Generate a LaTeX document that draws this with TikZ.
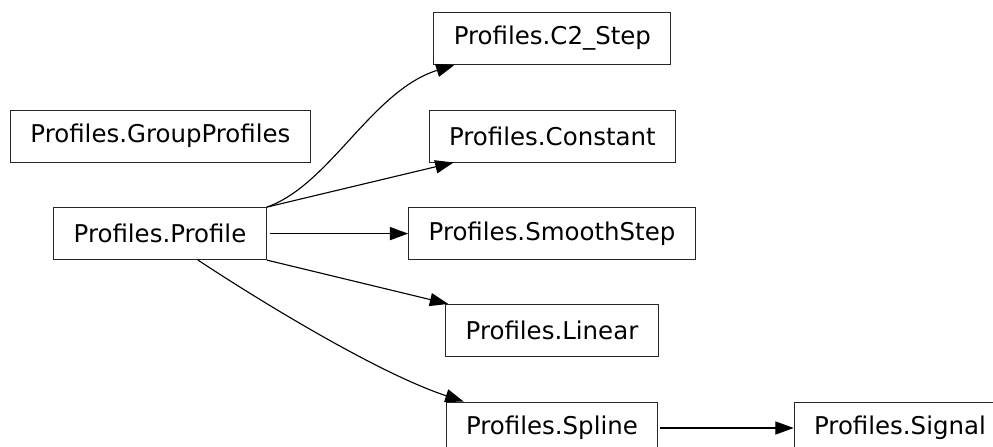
\documentclass[tikz,border=0pt]{standalone}
\usepackage{fontspec}
\setmainfont{DejaVu Sans}
\usetikzlibrary{arrows.meta}
\tikzset{
  klass/.style ={rectangle, draw=black!85, line width=0.7pt, fill=white,
                 font=\fontsize{17.4}{20}\selectfont, inner xsep=0.5cm,
                 inner ysep=0pt, minimum height=1.3cm},
  flow/.style  ={-{Triangle[length=4.6mm, width=3.3mm]}, line width=0.8pt,
                 draw=black}
}

\begin{document}
\begin{tikzpicture}[x=1cm,y=1cm]
\useasboundingbox (0,0) rectangle (24.825,-11.175);

%% ---- Left column ---------------------------------------------------
\node[klass] (grp)  at (4.01,-3.4)  {Profiles.GroupProfiles};
\node[klass] (prof) at (4.0,-5.84)  {Profiles.Profile};

%% ---- Subclasses ----------------------------------------------------
\node[klass] (c2step) at (13.81,-0.96) {Profiles.C2\_Step};
\node[klass] (const)  at (13.81,-3.4)  {Profiles.Constant};
\node[klass] (smooth) at (13.8,-5.84)  {Profiles.SmoothStep};
\node[klass] (linear) at (13.8,-8.26)  {Profiles.Linear};
\node[klass] (spline) at (13.8,-10.7)  {Profiles.Spline};
\node[klass] (signal) at (22.5,-10.7)  {Profiles.Signal};

%% ---- Inheritance edges ---------------------------------------------
\draw[flow] (prof.north east) .. controls +(1.575,0.55) and +(-2.075,-0.65)
      .. ([xshift=0.53cm]c2step.south west);
\draw[flow] (prof.north east) -- ([xshift=0.625cm]const.south west);
\draw[flow] ([xshift=0.08cm]prof.east) -- (smooth.west);
\draw[flow] (prof.south east) -- ([xshift=0.075cm]linear.north west);
\draw[flow] ([xshift=0.95cm]prof.south) .. controls +(1.55,-1.025)
      and +(-2.125,0.7) .. ([xshift=0.45cm]spline.north west);
\draw[flow] ([xshift=0.05cm]spline.east) -- (signal.west);
\end{tikzpicture}
\end{document}
